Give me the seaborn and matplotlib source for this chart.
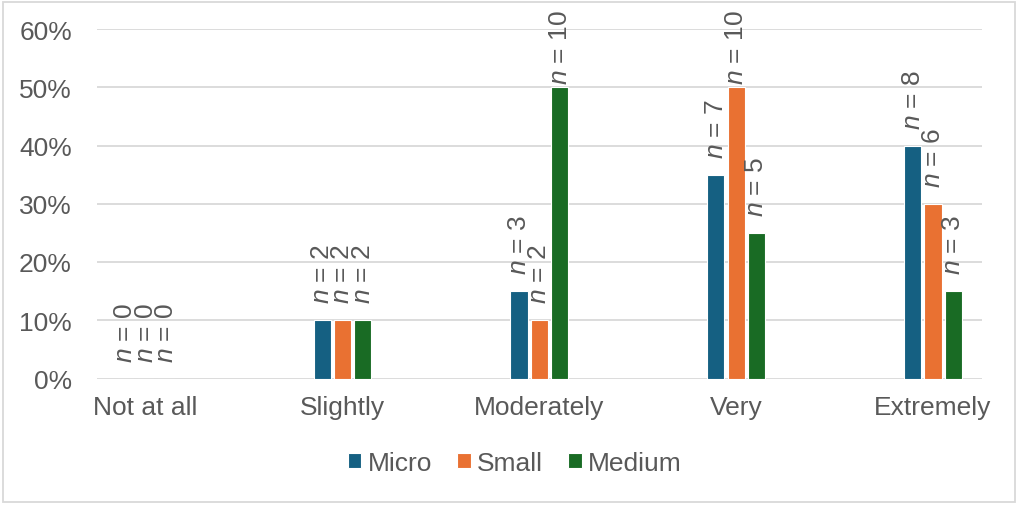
import matplotlib
matplotlib.use("Agg")
import matplotlib.pyplot as plt
import seaborn as sns
import pandas as pd
from matplotlib.patches import Rectangle

categories = ["Not at all", "Slightly", "Moderately", "Very", "Extremely"]
series = ["Micro", "Small", "Medium"]
micro = [0.00, 0.10, 0.15, 0.35, 0.40]
small = [0.00, 0.10, 0.10, 0.50, 0.30]
medium = [0.00, 0.10, 0.50, 0.25, 0.15]
n_micro = [0, 2, 3, 7, 8]
n_small = [0, 2, 2, 10, 6]
n_medium = [0, 2, 10, 5, 3]
y_ticks = [0, 0.1, 0.2, 0.3, 0.4, 0.5, 0.6]
y_tick_labels = ["0%", "10%", "20%", "30%", "40%", "50%", "60%"]

colors = ["#156082", "#E97132", "#196B24"]
text_color = "#595959"

sns.set_theme(style="white")
plt.rcParams["font.family"] = ["Liberation Sans", "DejaVu Sans"]
plt.rcParams["mathtext.fontset"] = "custom"
plt.rcParams["mathtext.it"] = "Liberation Sans:italic"
plt.rcParams["mathtext.rm"] = "Liberation Sans"

rows = []
for s, vals in zip(series, [micro, small, medium]):
    for c, v in zip(categories, vals):
        rows.append({"category": c, "size": s, "value": v})
df = pd.DataFrame(rows)

W, H = 1024, 506
fig = plt.figure(figsize=(W / 100, H / 100), dpi=100)
fig.patch.set_facecolor("white")
ax = fig.add_axes([97 / W, (H - 379.5) / H, (982 - 97) / W, (379.5 - 30) / H])

sns.barplot(data=df, x="category", y="value", hue="size", order=categories,
            hue_order=series, palette=colors, width=0.31, gap=0.16,
            edgecolor="white", linewidth=0.8, saturation=1, ax=ax, legend=True)

ax.set_xlim(-0.247, 4.249)
ax.set_ylim(0, 0.6)
ax.set_yticks(y_ticks)
ax.set_yticklabels(y_tick_labels)
ax.set_xlabel("")
ax.set_ylabel("")
for sp in ax.spines.values():
    sp.set_visible(False)
ax.yaxis.grid(True, color="#d9d9d9", linewidth=1.3)
ax.set_axisbelow(True)
ax.tick_params(axis="y", length=0, pad=18, labelsize=19, labelcolor=text_color)
ax.tick_params(axis="x", length=0, pad=12, labelsize=19, labelcolor=text_color)

# n labels
fig.canvas.draw()
renderer = fig.canvas.get_renderer()
top_limit = H - 10
for cont, ns in zip(ax.containers, [n_micro, n_small, n_medium]):
    for bar, n in zip(cont, ns):
        x = bar.get_x() + bar.get_width() / 2
        y = bar.get_height()
        t = ax.annotate(f"$n$ = {n}", xy=(x, y), xytext=(0, 12.2),
                        textcoords="offset points", rotation=90,
                        ha="center", va="bottom", fontsize=19,
                        color=text_color, annotation_clip=False)
        bb = t.get_window_extent(renderer)
        if bb.y1 > top_limit:
            shift = (bb.y1 - top_limit) * 72 / fig.dpi
            t.set_position((0, 12.2 - shift))

handles, labels = ax.get_legend_handles_labels()
ax.legend_.remove()
fig.legend(handles, labels, loc="center", bbox_to_anchor=(0.503, (H - 464) / H),
           ncol=3, frameon=False, fontsize=19, labelcolor=text_color,
           handlelength=0.5, handleheight=0.5, handletextpad=0.25,
           columnspacing=0.95)

fig.patches.append(Rectangle((3 / W, 3 / H), (1015 - 3) / W, (503 - 3) / H,
                             transform=fig.transFigure, fill=False,
                             edgecolor="#d9d9d9", linewidth=1.3))

fig.savefig("out.png", dpi=100, facecolor="white")
